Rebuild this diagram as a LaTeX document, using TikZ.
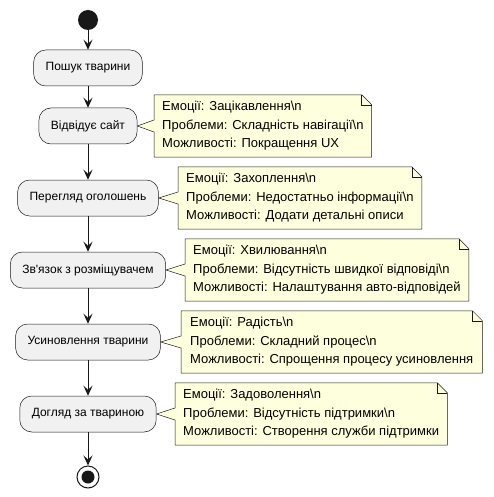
\documentclass[tikz,border=0pt]{standalone}
\usepackage{fontspec}
\setmainfont{Liberation Sans}
\usetikzlibrary{arrows.meta,backgrounds}

\definecolor{linecol}{HTML}{181818}
\definecolor{actfill}{HTML}{F1F1F1}
\definecolor{notefill}{HTML}{FEFFDD}

\newcommand{\nl}{\textbackslash n}

\tikzset{
    action/.style={draw=linecol, fill=actfill, rounded corners=12pt, line width=0.5pt,
        minimum height=36pt, inner xsep=12pt, font=\fontsize{12}{14}\selectfont},
    notetext/.style={anchor=west, align=left, inner xsep=8pt, inner ysep=0pt,
        minimum height=62pt, font=\fontsize{13}{18.5}\selectfont},
    noteline/.style={draw=linecol, fill=notefill, line width=0.5pt},
    flow/.style={draw=linecol, line width=1pt, -{Stealth[length=10pt,width=9pt,inset=4pt]}},
}

% note outline with a pointer to the action it belongs to
\newcommand{\notebox}[2]{%
    \begin{pgfonlayer}{background}
    \draw[noteline] (#1.north west) -- ([xshift=-10pt]#1.north east)
        -- ([yshift=-10pt]#1.north east) -- (#1.south east) -- (#1.south west)
        -- ([yshift=-6pt]#1.west) -- (#2.east) -- ([yshift=6pt]#1.west) -- cycle;
    \draw[noteline, fill=none] ([xshift=-10pt]#1.north east) |- ([yshift=-10pt]#1.north east);
    \end{pgfonlayer}}

\begin{document}
\begin{tikzpicture}[x=1pt, y=-1pt]
    \useasboundingbox (0,0) rectangle (494,497);

    % start / stop
    \node[circle, fill=linecol, minimum size=20pt, inner sep=0pt] (start) at (88,20) {};
    \node[circle, draw=linecol, line width=1pt, minimum size=22pt, inner sep=0pt] (stop) at (88,477) {};
    \fill[linecol] (stop.center) circle (6.5pt);

    % actions
    \node[action] (search) at (88,68) {Пошук тварини};
    \node[action] (visit) at (88,126) {Відвідує сайт};
    \node[action] (browse) at (88,198) {Перегляд оголошень};
    \node[action] (contact) at (88,270) {Зв\textquotesingle язок з розміщувачем};
    \node[action] (adopt) at (88,342) {Усиновлення тварини};
    \node[action] (care) at (88,414) {Догляд за твариною};

    \draw[flow] (start) -- (search);
    \draw[flow] (search) -- (visit);
    \draw[flow] (visit) -- (browse);
    \draw[flow] (browse) -- (contact);
    \draw[flow] (contact) -- (adopt);
    \draw[flow] (adopt) -- (care);
    \draw[flow] (care) -- (stop);

    % notes
    \node[notetext] (nvisit) at (154,126) {Емоції: Зацікавлення\nl\\Проблеми: Складність навігації\nl\\Можливості: Покращення UX};
    \notebox{nvisit}{visit}
    \node[notetext] (nbrowse) at (178,198) {Емоції: Захоплення\nl\\Проблеми: Недостатньо інформації\nl\\Можливості: Додати детальні описи};
    \notebox{nbrowse}{browse}
    \node[notetext] (ncontact) at (185,270) {Емоції: Хвилювання\nl\\Проблеми: Відсутність швидкої відповіді\nl\\Можливості: Налаштування авто-відповідей};
    \notebox{ncontact}{contact}
    \node[notetext, inner xsep=9pt] (nadopt) at (181,342) {Емоції: Радість\nl\\Проблеми: Складний процес\nl\\Можливості: Спрощення процесу усиновлення};
    \notebox{nadopt}{adopt}
    \node[notetext] (ncare) at (175,414) {Емоції: Задоволення\nl\\Проблеми: Відсутність підтримки\nl\\Можливості: Створення служби підтримки};
    \notebox{ncare}{care}
\end{tikzpicture}
\end{document}
